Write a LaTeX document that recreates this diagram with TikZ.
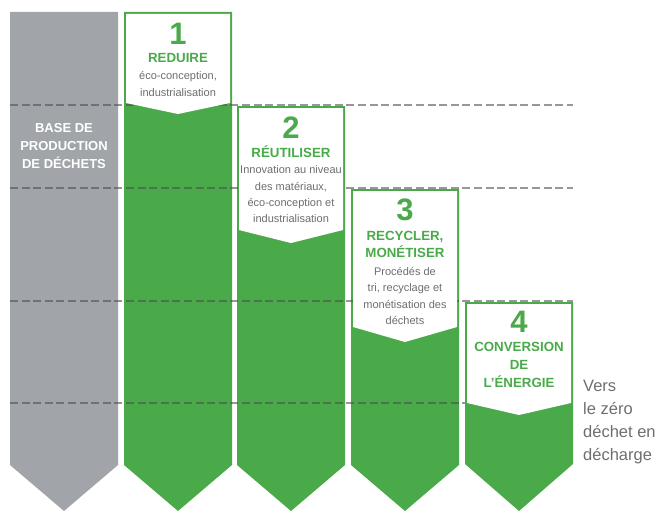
\documentclass[tikz,border=0pt]{standalone}
\usepackage{fontspec}
\setmainfont{Liberation Sans}

\definecolor{vert}{HTML}{4AAA4A}
\definecolor{grisbase}{HTML}{A1A5AA}
\definecolor{gristexte}{HTML}{6D6E71}
\definecolor{tirets}{HTML}{4A4C50}

\begin{document}
\begin{tikzpicture}[x=1pt, y=-1pt,
    chiffre/.style={text=vert, font=\bfseries\fontsize{31}{31}\selectfont, inner sep=0pt},
    titre/.style={text=vert, font=\bfseries\fontsize{13.3}{17.5}\selectfont, align=center, inner sep=0pt},
    detail/.style={text=gristexte, font=\fontsize{11}{16.3}\selectfont, align=center, inner sep=0pt},
    tiret/.style={tirets, opacity=0.58, line width=2pt, dash pattern=on 8pt off 3.6pt}]

    % cadre = taille de l'image de reference
    \useasboundingbox (0,0) rectangle (659,511);

    % 1. colonne grise (base de production)
    \fill[grisbase] (10,12) -- (118,12) -- (118,465) -- (64,511) -- (10,465) -- cycle;

    % 2. les quatre colonnes vertes (forme pleine, la case blanche vient par-dessus)
    \fill[vert] (124,12) -- (232,12) -- (232,465) -- (178,511) -- (124,465) -- cycle;
    \fill[vert] (237,106) -- (345,106) -- (345,465) -- (291,511) -- (237,465) -- cycle;
    \fill[vert] (351,189) -- (459,189) -- (459,465) -- (405,511) -- (351,465) -- cycle;
    \fill[vert] (465,302) -- (573,302) -- (573,464) -- (519,511) -- (465,464) -- cycle;

    % 3. niveaux en pointilles (passent sous les cases blanches)
    \draw[tiret] (10,105) -- (573,105);
    \draw[tiret] (10,188) -- (573,188);
    \draw[tiret] (10,301) -- (573,301);
    \draw[tiret] (10,403) -- (465,403);

    % 4. cases blanches avec fond en chevron
    \fill[white] (126,14) -- (230,14) -- (230,103) -- (178,114) -- (126,103) -- cycle;
    \fill[white] (239,108) -- (343,108) -- (343,230) -- (291,243) -- (239,230) -- cycle;
    \fill[white] (353,191) -- (457,191) -- (457,327) -- (405,342) -- (353,327) -- cycle;
    \fill[white] (467,304) -- (571,304) -- (571,403) -- (519,415) -- (467,403) -- cycle;

    % 5. textes
    \node[text=white, font=\bfseries\fontsize{13}{18}\selectfont, align=center, inner sep=0pt]
        (base) at (64,146) {BASE DE\\PRODUCTION\\DE DÉCHETS};

    \node[chiffre] (num1) at (178,34) {1};
    \node[titre] (titre1) at (178,58) {REDUIRE};
    \node[detail] (det1) at (178,84) {éco-conception,\\industrialisation};

    \node[chiffre] (num2) at (291,128) {2};
    \node[titre] (titre2) at (291,152) {RÉUTILISER};
    \node[detail] (det2) at (291,194.5) {Innovation au niveau\\des matériaux,\\éco-conception et\\industrialisation};

    \node[chiffre] (num3) at (405,210) {3};
    \node[titre] (titre3) at (405,244.5) {RECYCLER,\\MONÉTISER};
    \node[detail] (det3) at (405,296) {Procédés de\\tri, recyclage et\\monétisation des\\déchets};

    \node[chiffre] (num4) at (519,322) {4};
    \node[titre, font=\bfseries\fontsize{13.3}{18}\selectfont] (titre4) at (519,365) {CONVERSION\\DE\\L’ÉNERGIE};

    \node[text=gristexte, font=\fontsize{16.5}{22.7}\selectfont, align=left, inner sep=0pt, anchor=west]
        (vers) at (583,422) {Vers\\le zéro\\déchet en\\décharge};

\end{tikzpicture}
\end{document}
